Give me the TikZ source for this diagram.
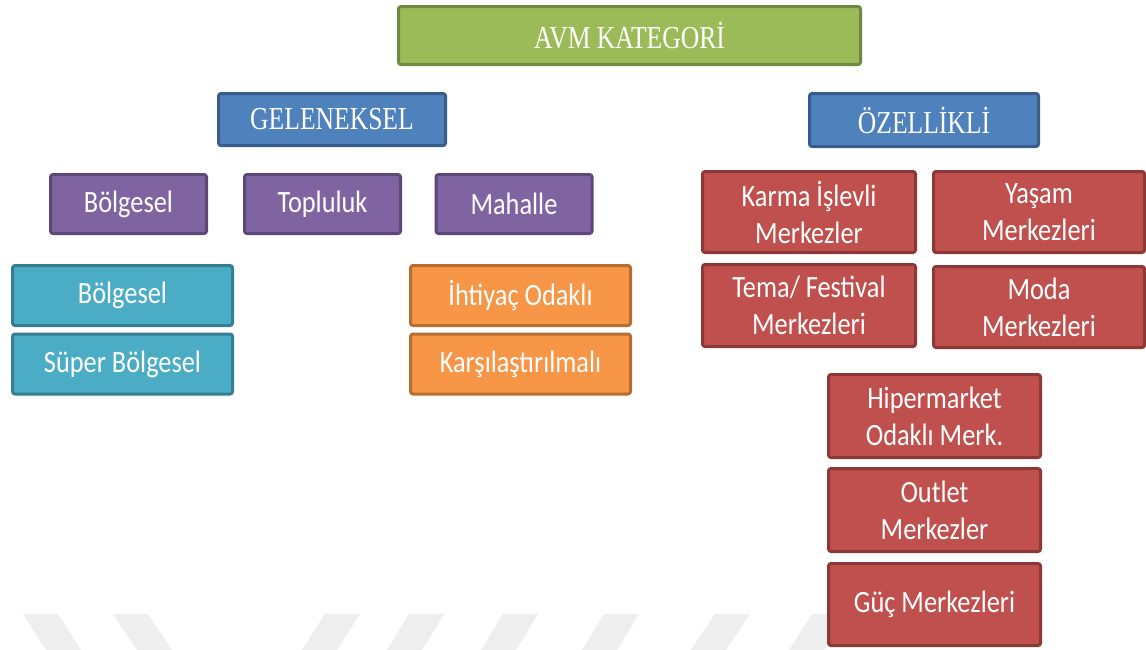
\documentclass[tikz,border=0pt]{standalone}
\usepackage{fontspec}
\newfontfamily\boxsans[FakeStretch=0.85]{Carlito}
\newfontfamily\boxserif[FakeStretch=0.8]{Liberation Serif}
\definecolor{gfill}{HTML}{9BBB59}\definecolor{gline}{HTML}{71893F}
\definecolor{bfill}{HTML}{4F81BD}\definecolor{bline}{HTML}{385D8A}
\definecolor{pfill}{HTML}{8064A2}\definecolor{pline}{HTML}{5C4776}
\definecolor{tfill}{HTML}{4BACC6}\definecolor{tline}{HTML}{357D91}
\definecolor{ofill}{HTML}{F79646}\definecolor{oline}{HTML}{B66D31}
\definecolor{rfill}{HTML}{C0504D}\definecolor{rline}{HTML}{8C3836}
\definecolor{wmark}{HTML}{EEEEEE}
\begin{document}
\begin{tikzpicture}[x=1pt,y=-1pt,
  cbox/.style={draw, line width=3pt, rounded corners=2.5pt, text=white, align=center, inner sep=0pt},
  sansbox/.style={cbox, font=\boxsans\fontsize{31}{37}\selectfont},
  serifbox/.style={cbox, font=\boxserif\fontsize{32}{38}\selectfont},
  greenbox/.style={serifbox, fill=gfill, draw=gline},
  bluebox/.style={serifbox, fill=bfill, draw=bline},
  purplebox/.style={sansbox, fill=pfill, draw=pline, minimum width=156pt, minimum height=59pt},
  tealbox/.style={sansbox, fill=tfill, draw=tline, minimum width=220pt, minimum height=60pt},
  orangebox/.style={sansbox, fill=ofill, draw=oline, minimum width=220pt, minimum height=60pt},
  redbox/.style={sansbox, fill=rfill, draw=rline, minimum width=212pt, minimum height=82pt},
  wm/.style={fill=wmark, draw=none}
]
\useasboundingbox (0,0) rectangle (1146,649);
\begin{scope}
\clip (0,0) rectangle (1146,649);
% watermark stripes
\foreach \a/\s in {23/23, 113/24, 325/-23, 409/-22, 503/-22, 604/-22, 715/-24, 812/-23}{
  \fill[wm] (\a,614) -- (\a+35,614) -- (\a+35+\s,650) -- (\a+\s,650) -- cycle;
}
\end{scope}

\node[greenbox, minimum width=462pt, minimum height=58pt] (root) at (629.5,35.5) {AVM KATEGORİ};
\node[bluebox, minimum width=227pt, minimum height=52pt] (gel) at (332,119.5) {GELENEKSEL};
\node[bluebox, minimum width=229pt, minimum height=53pt] (oz) at (924,120) {ÖZELLİKLİ};

\node[purplebox] (p1) at (128.5,204) {Bölgesel};
\node[purplebox] (p2) at (322.5,204) {Topluluk};
\node[purplebox] (p3) at (514,204) {Mahalle};

\node[tealbox] (t1) at (122.5,295.5) {Bölgesel};
\node[tealbox] (t2) at (122.5,364) {Süper Bölgesel};

\node[orangebox] (o1) at (520.5,295.5) {İhtiyaç Odaklı};
\node[orangebox] (o2) at (520.5,364) {Karşılaştırılmalı};

\node[redbox, minimum width=213pt, minimum height=81pt] (r1) at (809,212) {Karma İşlevli\\Merkezler};
\node[redbox, minimum width=211pt, minimum height=81pt] (r2) at (1039,212) {Yaşam\\Merkezleri};
\node[redbox, minimum width=213pt] (r3) at (809,305.5) {Tema/ Festival\\Merkezleri};
\node[redbox, minimum width=211pt, minimum height=81pt] (r4) at (1039,307) {Moda\\Merkezleri};
\node[redbox, minimum height=83pt] (r5) at (934.5,416) {Hipermarket\\Odaklı Merk.};
\node[redbox, minimum height=83pt] (r6) at (934.5,510) {Outlet\\Merkezler};
\node[redbox] (r7) at (934.5,604.5) {Güç Merkezleri};
\end{tikzpicture}
\end{document}
